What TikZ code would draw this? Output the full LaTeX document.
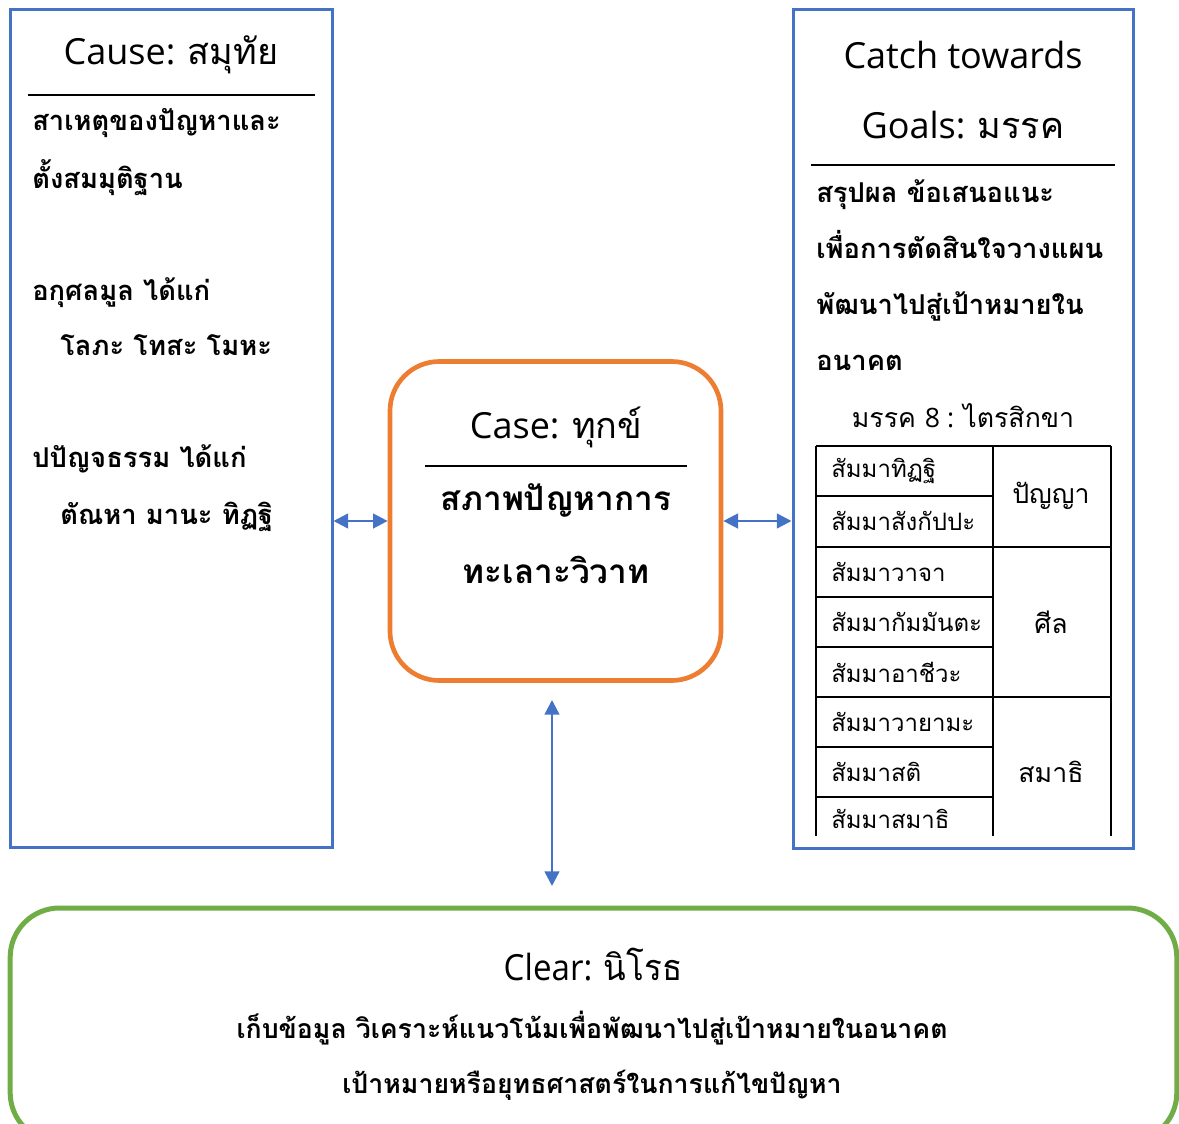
\documentclass[tikz,border=0pt]{standalone}
\usepackage{fontspec}
\setmainfont[Script=Thai]{Loma}
\newfontfamily\lat{Open Sans}
\usetikzlibrary{arrows.meta,positioning}
\definecolor{boxblue}{HTML}{4472C4}
\definecolor{boxorange}{HTML}{ED7D31}
\definecolor{boxgreen}{HTML}{70AD47}
\tikzset{
  panel/.style={draw=boxblue, line width=2.25pt, inner sep=0pt},
  title/.style={font=\fontsize{27}{32}\selectfont, inner sep=0pt},
  body/.style={font=\bfseries\fontsize{20.5}{24}\selectfont, anchor=base west, inner sep=0pt},
  cell/.style={font=\fontsize{18}{22}\selectfont, anchor=west, inner sep=0pt},
  rule/.style={line width=1.2pt},
  tabline/.style={line width=1.5pt},
  link/.style={draw=boxblue, line width=1.8pt,
    {Triangle[length=11pt,width=11pt]}-{Triangle[length=11pt,width=11pt]}}
}
\begin{document}
\begin{tikzpicture}[x=0.75pt,y=-0.75pt]
\useasboundingbox (0,0) rectangle (1179,1124);
% ---------- panels ----------
\node[panel, minimum width=241.5pt, minimum height=627.75pt] (cause) at (171,428.5) {};
\node[panel, minimum width=255pt, minimum height=628.5pt] (goals) at (963,429) {};
\node[draw=boxorange, line width=3.5pt, rounded corners=37pt,
      minimum width=248.25pt, minimum height=239.25pt] (case) at (555.5,521) {};
\begin{scope}
\clip (0,0) rectangle (1179,1124);
\node[draw=boxgreen, line width=3.75pt, rounded corners=37pt,
      minimum width=875pt, minimum height=175.5pt] (clear) at (593.5,1025) {};
\end{scope}
% ---------- left: cause ----------
\node[title] (causetitle) at (171,55) {{\lat Cause: }สมุทัย};
\draw[rule] (28,95) -- (315,95);
\foreach \ypos/\xpos/\txt in {131/32/สาเหตุของปัญหาและ, 188/32/ตั้งสมมุติฐาน,
    300/32/อกุศลมูล ได้แก่, 355/60/โลภะ โทสะ โมหะ,
    467/32/ปปัญจธรรม ได้แก่, 524/60/ตัณหา มานะ ทิฏฐิ}
  \node[body] (cause-\ypos) at (\xpos,\ypos) {\txt};
% ---------- centre: case ----------
\node[title] (casetitle) at (556,427) {{\lat Case: }ทุกข์};
\draw[rule] (425,466) -- (687,466);
\node[font=\bfseries\fontsize{25}{28}\selectfont] (case-1) at (556,500) {สภาพปัญหาการ};
\node[font=\bfseries\fontsize{25}{28}\selectfont] (case-2) at (556,570) {ทะเลาะวิวาท};
% ---------- right: goals ----------
\node[title] (goalstitle) at (963,55) {\lat Catch towards};
\node[title] (goalstitle-2) at (963,125) {{\lat Goals: }มรรค};
\draw[rule] (811,165) -- (1115,165);
\foreach \ypos/\txt in {202/สรุปผล ข้อเสนอแนะ, 258/เพื่อการตัดสินใจวางแผน,
    314/พัฒนาไปสู่เป้าหมายใน, 370/อนาคต}
  \node[body] (goals-\ypos) at (816,\ypos) {\txt};
\node[font=\fontsize{20}{24}\selectfont] (eightfold) at (963,416) {มรรค {\lat 8 : }ไตรสิกขา};
% table of the eightfold path
\draw[tabline] (816,446) -- (1111,446);
\foreach \xpos in {816,993,1111}
  \draw[tabline] (\xpos,446) -- (\xpos,836);
\foreach \ypos in {496,547,597,647,697,747,797}
  \draw[tabline] (816,\ypos) -- (993,\ypos);
\draw[tabline] (993,547) -- (1111,547);
\draw[tabline] (993,697) -- (1111,697);
\foreach \ypos/\txt [count=\i] in {471/สัมมาทิฏฐิ, 521/สัมมาสังกัปปะ, 572/สัมมาวาจา,
    622/สัมมากัมมันตะ, 672/สัมมาอาชีวะ, 722/สัมมาวายามะ, 772/สัมมาสติ, 819/สัมมาสมาธิ}
  \node[cell] (path-\i) at (831,\ypos) {\txt};
\foreach \ypos/\txt/\name in {496/ปัญญา/panya, 622/ศีล/sila, 772/สมาธิ/samadhi}
  \node[font=\fontsize{20}{24}\selectfont] (\name) at (1051,\ypos) {\txt};
% ---------- bottom: clear ----------
\node[title] (cleartitle) at (593,965) {\scalebox{0.92}[1]{{\lat Clear: }นิโรธ}};
\node[font=\bfseries\fontsize{20}{24}\selectfont] (clear-1) at (592,1028)
  {เก็บข้อมูล วิเคราะห์แนวโน้มเพื่อพัฒนาไปสู่เป้าหมายในอนาคต};
\node[font=\bfseries\fontsize{20}{24}\selectfont] (clear-2) at (592,1085)
  {เป้าหมายหรือยุทธศาสตร์ในการแก้ไขปัญหา};
% ---------- connectors ----------
\draw[link] (cause.east |- case.west) -- (case.west);
\draw[link] (case.east) -- (case.east -| goals.west);
\coordinate (vtop) at (552,700);
\coordinate (vbot) at (552,886);
\draw[link] (vtop) -- (vbot);
\end{tikzpicture}
\end{document}
